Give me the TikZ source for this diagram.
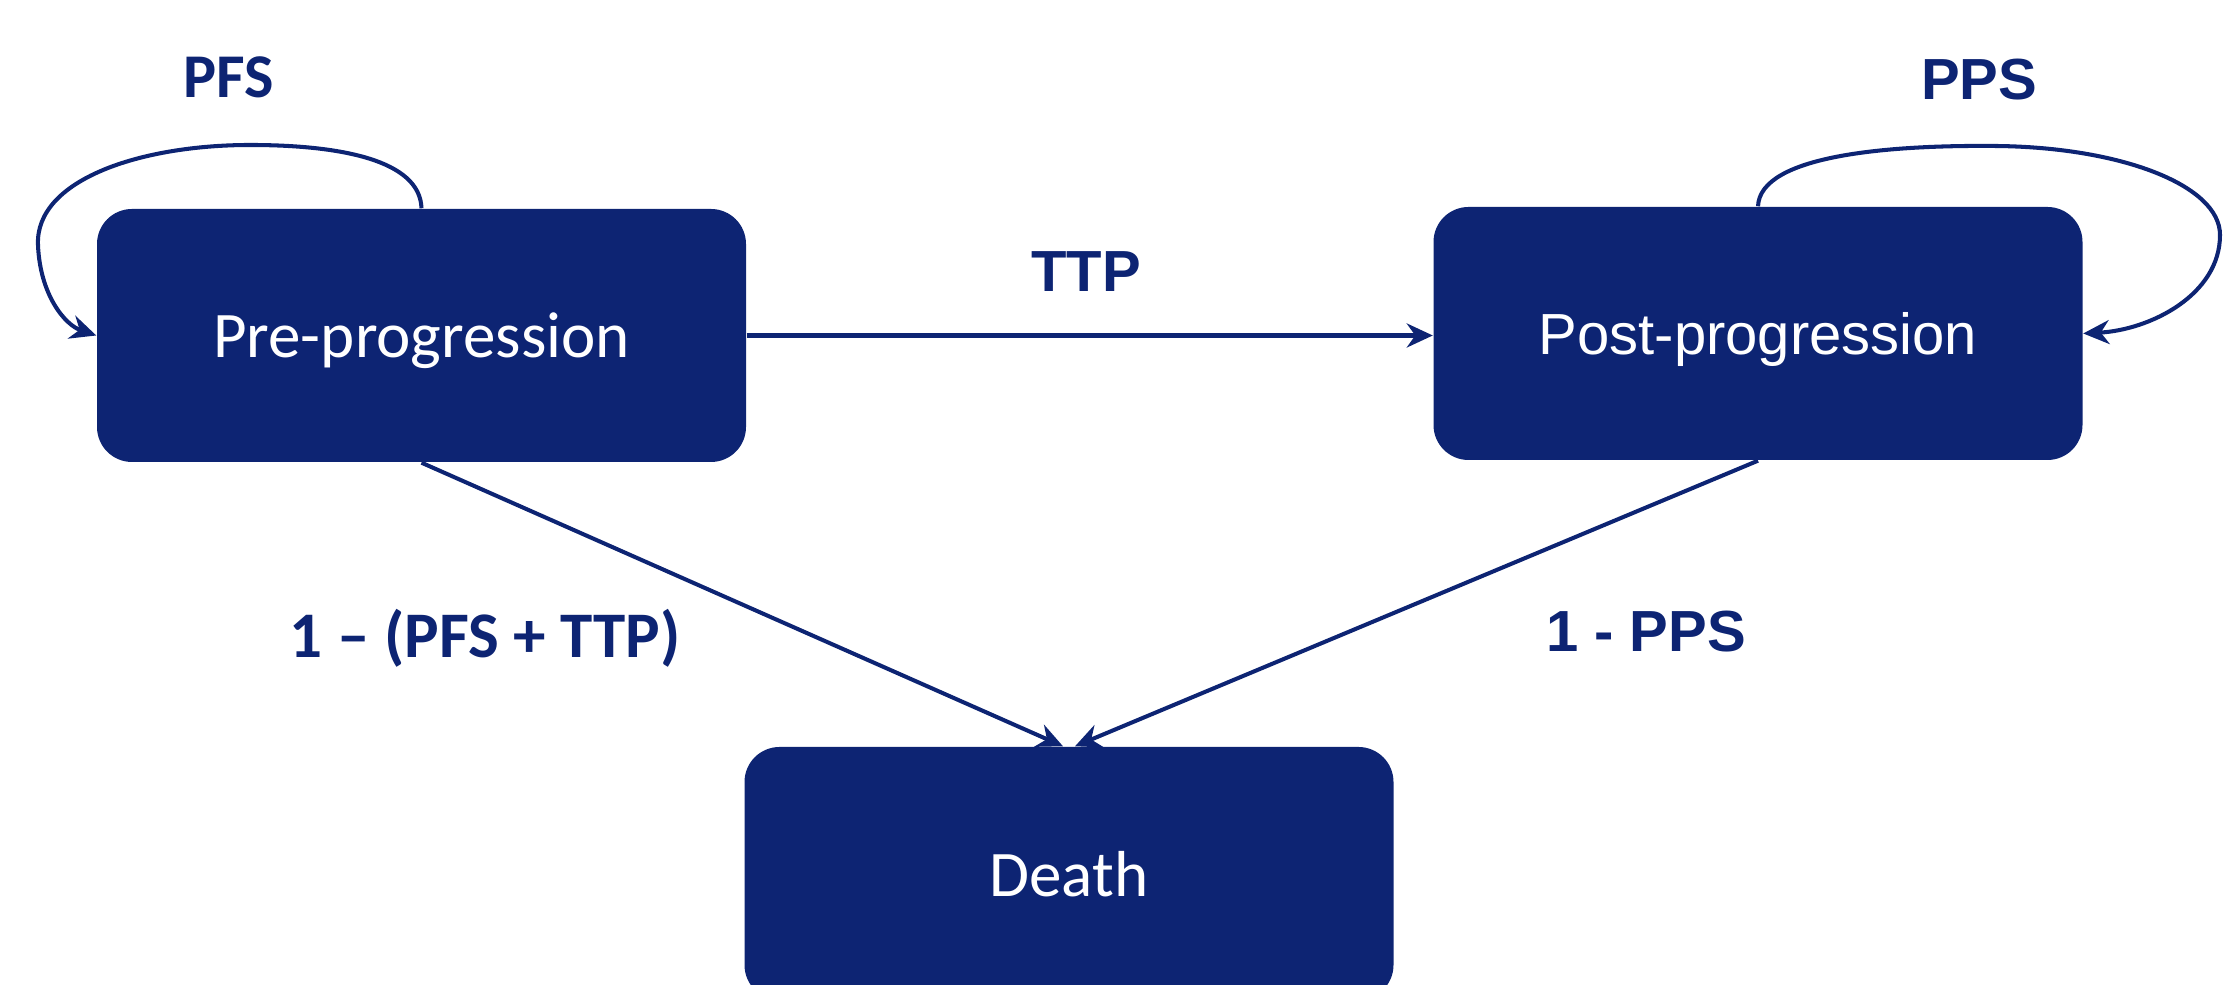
\documentclass[tikz,border=0pt]{standalone}
\usepackage{fontspec}
\setmainfont{Carlito}
\newfontfamily\arialfont{Liberation Sans}
\usepackage{xcolor}
\usepackage{tikz}
\usetikzlibrary{arrows.meta}
\definecolor{navy}{HTML}{0D2473}
\tikzset{
  statebox/.style={fill=navy, text=white, rounded corners=0.35cm, minimum width=6.49cm,
    minimum height=2.53cm, inner sep=0pt, text depth=0pt},
  line/.style={draw=navy, line width=1.15pt, -{Stealth[length=2.6mm,width=2.4mm]}},
  lbl/.style={text=navy, font=\bfseries\fontsize{17.7}{20}\selectfont},
  albl/.style={text=navy, font=\arialfont\bfseries\fontsize{16.5}{19}\selectfont}
}
\begin{document}
\begin{tikzpicture}
  \useasboundingbox (0,0) rectangle (22.25,9.85);
  \clip (0,0) rectangle (22.25,9.85);

  \node[statebox, font=\fontsize{18.5}{22}\selectfont] (pre) at (4.215,6.495) {Pre-progression};
  \node[statebox, font=\arialfont\fontsize{16.5}{19}\selectfont] (post) at (17.58,6.515) {Post-progression};
  \node[statebox, font=\fontsize{18.5}{22}\selectfont] (death) at (10.69,1.115) {Death};

  \draw[line] (pre.east) -- (pre.east -| post.west);
  \draw[line] (pre.south) -- ([xshift=-0.6mm]death.north);
  \draw[line] (post.south) -- ([xshift=0.6mm]death.north);

  % self loops
  \draw[line] (pre.north) .. controls (4.2,8.25) and (3.4,8.4) .. (2.5,8.4)
    .. controls (1.4,8.4) and (0.35,8.05) .. (0.38,7.4)
    .. controls (0.4,6.9) and (0.65,6.6) .. (pre.west);
  \draw[line] (post.north) .. controls (17.6,8.3) and (18.9,8.4) .. (19.95,8.39)
    .. controls (21.2,8.38) and (22.2,8.0) .. (22.2,7.5)
    .. controls (22.2,6.9) and (21.5,6.55) .. (post.east);

  \node[lbl] (pfs) at (2.29,9.08) {PFS};
  \node[albl] (pps) at (19.79,9.05) {PPS};
  \node[albl] (ttp) at (10.86,7.13) {TTP};
  \node[lbl, font=\bfseries\fontsize{18.5}{22}\selectfont] (predeath) at (4.85,3.47) {1 – (PFS + TTP)};
  \node[albl] (postdeath) at (16.46,3.53) {1 - PPS};
\end{tikzpicture}
\end{document}
